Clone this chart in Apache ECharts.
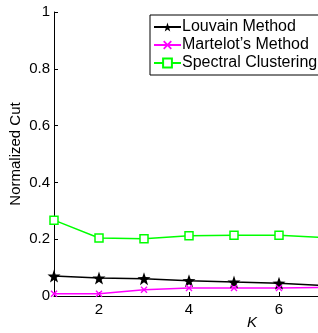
<!DOCTYPE html>
<html lang="en">
<head>
    <meta charset="UTF-8">
    <title>Normalized Cut</title>
    <script src="https://cdn.jsdelivr.net/npm/echarts@6/dist/echarts.min.js"></script>
</head>
<body style="margin:0">
    <div id="main" style="width: 318px;height: 333px;"></div>
    <script type="text/javascript">
        // data
        var kValues = [1, 2, 3, 4, 5, 6, 7];
        var louvain = [0.070, 0.063, 0.061, 0.054, 0.049, 0.045, 0.037];
        var martelot = [0.008, 0.008, 0.022, 0.028, 0.028, 0.028, 0.030];
        var spectral = [0.267, 0.204, 0.202, 0.212, 0.214, 0.214, 0.206];
        var xTicks = [2, 4, 6];
        var yTicks = [0, 0.2, 0.4, 0.6, 0.8, 1];

        function pairs(ys) {
            return kValues.map(function (k, i) { return [k, ys[i]]; });
        }

        var starPath = 'path://M0,-10L2.35,-3.24L9.51,-3.09L3.8,1.24L5.88,8.09L0,4L-5.88,8.09L-3.8,1.24L-9.51,-3.09L-2.35,-3.24Z';
        var crossPath = 'path://M0,1.4L1.4,0L5,3.6L8.6,0L10,1.4L6.4,5L10,8.6L8.6,10L5,6.4L1.4,10L0,8.6L3.6,5Z';
        var font = 'Liberation Sans, Arial, sans-serif';

        var myChart = echarts.init(document.getElementById('main'));
        var option = {
            animation: false,
            backgroundColor: '#fff',
            grid: { left: 54, right: -6, top: 12, bottom: 37, outerBoundsMode: 'none' },
            legend: {
                orient: 'vertical',
                left: 150,
                top: 15,
                itemWidth: 27,
                itemHeight: 11,
                itemGap: 2,
                padding: [4, 20, 4, 3],
                borderColor: '#000',
                borderWidth: 1,
                backgroundColor: '#fff',
                textStyle: { fontFamily: font, fontSize: 16, color: '#000', padding: [0, 0, 0, -4] },
                data: ['Louvain Method', 'Martelot\u2019s Method', 'Spectral Clustering']
            },
            xAxis: {
                type: 'value',
                min: 1,
                max: 7,
                splitLine: { show: false },
                axisLine: { lineStyle: { color: '#000', width: 1 } },
                axisTick: { inside: true, length: 4, customValues: xTicks, lineStyle: { color: '#000' } },
                axisLabel: { customValues: xTicks, fontFamily: font, fontSize: 15, color: '#000', margin: 6 }
            },
            yAxis: {
                type: 'value',
                min: 0,
                max: 1,
                name: 'Normalized Cut',
                nameLocation: 'middle',
                nameGap: 31,
                nameMoveOverlap: false,
                nameTextStyle: { fontFamily: font, fontSize: 15, color: '#000' },
                splitLine: { show: false },
                axisLine: { show: true, lineStyle: { color: '#000', width: 1 } },
                axisTick: { show: true, inside: true, length: 4, customValues: yTicks, lineStyle: { color: '#000' } },
                axisLabel: { customValues: yTicks, fontFamily: font, fontSize: 15, color: '#000', margin: 4 }
            },
            graphic: [{
                type: 'text',
                left: 247,
                top: 315,
                style: { text: 'K', font: 'italic 15px Liberation Sans, Arial, sans-serif', fill: '#000' }
            }],
            series: [{
                name: 'Louvain Method',
                type: 'line',
                data: pairs(louvain),
                symbol: starPath,
                symbolSize: 13,
                itemStyle: { color: '#000' },
                lineStyle: { color: '#000', width: 1.5 }
            }, {
                name: 'Martelot\u2019s Method',
                type: 'line',
                data: pairs(martelot),
                symbol: crossPath,
                symbolSize: 7,
                itemStyle: { color: '#ff00ff' },
                lineStyle: { color: '#ff00ff', width: 1.5 }
            }, {
                name: 'Spectral Clustering',
                type: 'line',
                data: pairs(spectral),
                symbol: 'rect',
                symbolSize: 8,
                itemStyle: { color: '#fff', borderColor: '#00ff00', borderWidth: 1.5 },
                lineStyle: { color: '#00ff00', width: 1.5 }
            }]
        };
        myChart.setOption(option);
    </script>
</body>
</html>
